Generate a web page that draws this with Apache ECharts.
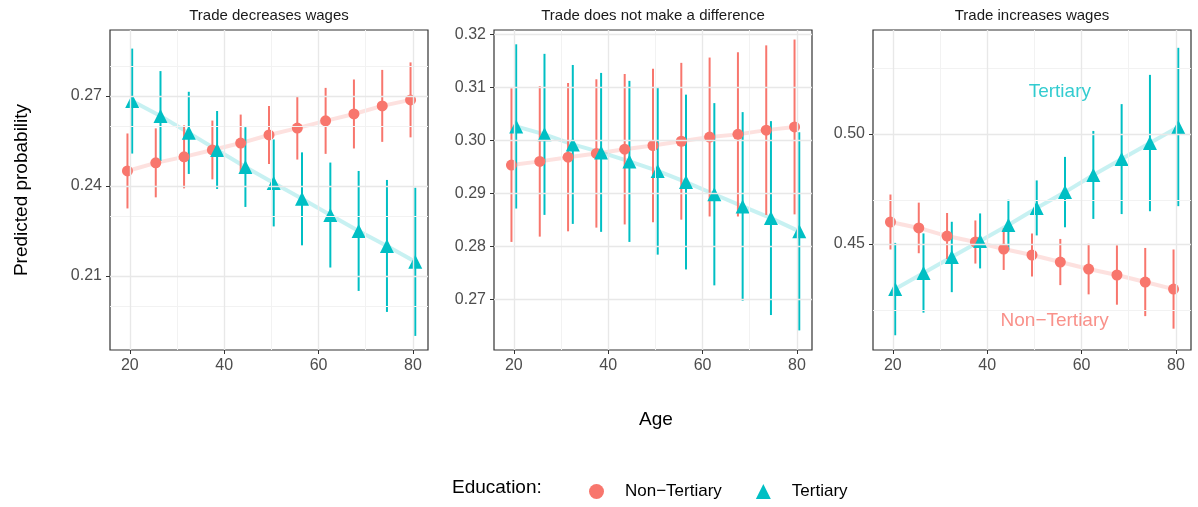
<!DOCTYPE html>
<html><head><meta charset="utf-8">
<script src="https://cdn.jsdelivr.net/npm/echarts@6/dist/echarts.min.js"></script>
<style>html,body{margin:0;background:#fff}#c{width:1198px;height:507px}</style>
</head><body><div id="c"></div>
<script>
// ages (non-tertiary dodged left, tertiary right)
const ages = [20, 26, 32, 38, 44, 50, 56, 62, 68, 74, 80];
const titles = ['Trade decreases wages', 'Trade does not make a difference', 'Trade increases wages'];

// panel 1
const p1NT = [0.245, 0.2477, 0.2497, 0.252, 0.2543, 0.257, 0.2593, 0.2617, 0.264, 0.2667, 0.2687];
const p1NTerr = [0.0125, 0.0115, 0.0105, 0.0098, 0.0095, 0.0097, 0.0105, 0.011, 0.0115, 0.012, 0.0125];
const p1T = [0.2683, 0.2633, 0.2577, 0.252, 0.2463, 0.241, 0.2357, 0.2303, 0.225, 0.22, 0.2147];
const p1Terr = [0.0175, 0.015, 0.0137, 0.013, 0.0133, 0.0145, 0.0155, 0.0175, 0.02, 0.022, 0.0247];
// panel 2
const p2NT = [0.2953, 0.296, 0.2968, 0.2975, 0.2983, 0.299, 0.2998, 0.3006, 0.3011, 0.3019, 0.3025];
const p2NTerr = [0.0145, 0.0142, 0.014, 0.014, 0.0142, 0.0145, 0.0148, 0.015, 0.0155, 0.016, 0.0165];
const p2T = [0.3026, 0.3011, 0.2992, 0.2977, 0.296, 0.2942, 0.2921, 0.2898, 0.2875, 0.2853, 0.2828];
const p2Terr = [0.0155, 0.0152, 0.015, 0.015, 0.0152, 0.0158, 0.0165, 0.0172, 0.0178, 0.0183, 0.0187];
// panel 3
const p3NT = [0.46, 0.4573, 0.4536, 0.4509, 0.4477, 0.445, 0.4418, 0.4386, 0.4359, 0.4327, 0.4295];
const p3NTerr = [0.0125, 0.0115, 0.0105, 0.0098, 0.0095, 0.0098, 0.0105, 0.0115, 0.0135, 0.0155, 0.018];
const p3T = [0.4295, 0.4368, 0.4441, 0.4514, 0.4586, 0.4664, 0.4736, 0.4814, 0.4886, 0.4959, 0.5032];
const p3Terr = [0.021, 0.018, 0.016, 0.0125, 0.0115, 0.0125, 0.016, 0.02, 0.025, 0.031, 0.036];

const panels = [
  { nt: p1NT, nte: p1NTerr, t: p1T, te: p1Terr, ymin: 0.1853, ymax: 0.292, major: [0.21, 0.24, 0.27], minor: [0.195, 0.225, 0.255, 0.285] },
  { nt: p2NT, nte: p2NTerr, t: p2T, te: p2Terr, ymin: 0.2604, ymax: 0.3208, major: [0.27, 0.28, 0.29, 0.30, 0.31, 0.32], minor: [0.265, 0.275, 0.285, 0.295, 0.305, 0.315] },
  { nt: p3NT, nte: p3NTerr, t: p3T, te: p3Terr, ymin: 0.4018, ymax: 0.5473, major: [0.45, 0.50], minor: [0.425, 0.475, 0.525] }
];
const xMajor = [20, 40, 60, 80], xMinor = [30, 50, 70];
const lefts = [110, 494, 873];
const RED = '#F8766D', CYAN = '#00BFC4', LAB = '#4d4d4d';

const grid = [], xAxis = [], yAxis = [], series = [], graphic = [];
panels.forEach((p, i) => {
  grid.push({ left: lefts[i], top: 30, width: 318, height: 320, show: true, borderColor: '#333', borderWidth: 1.2 });
  xAxis.push({ type: 'value', gridIndex: i, min: 15.8, max: 83.2, splitLine: { show: false },
    axisLine: { show: false }, axisTick: { show: true, customValues: xMajor, length: 4, lineStyle: { color: '#333' } },
    axisLabel: { customValues: xMajor, color: LAB, fontSize: 16, margin: 8 } });
  yAxis.push({ type: 'value', gridIndex: i, min: p.ymin, max: p.ymax, splitLine: { show: false },
    axisLine: { show: false }, axisTick: { show: true, customValues: p.major, length: 4, lineStyle: { color: '#333' } },
    axisLabel: { customValues: p.major, color: LAB, fontSize: 16, margin: 8, formatter: v => v.toFixed(2) } });
  const ml = [];
  xMinor.forEach(v => ml.push({ xAxis: v, lineStyle: { color: '#f2f2f2', width: 1, type: 'solid' } }));
  p.minor.forEach(v => ml.push({ yAxis: v, lineStyle: { color: '#f2f2f2', width: 1, type: 'solid' } }));
  xMajor.forEach(v => ml.push({ xAxis: v, lineStyle: { color: '#e8e8e8', width: 1.4, type: 'solid' } }));
  p.major.forEach(v => ml.push({ yAxis: v, lineStyle: { color: '#e8e8e8', width: 1.4, type: 'solid' } }));
  series.push({ type: 'scatter', xAxisIndex: i, yAxisIndex: i, data: [], silent: true,
    markLine: { silent: true, symbol: 'none', label: { show: false }, animation: false, data: ml } });
  const add = (vals, errs, off, color, name, symbol, size) => {
    const pts = ages.map((a, k) => [a + off, vals[k]]);
    series.push({ type: 'line', xAxisIndex: i, yAxisIndex: i, data: pts, symbol: 'none', silent: true,
      lineStyle: { color, width: 4, opacity: 0.22 }, z: 2 });
    series.push({ type: 'custom', xAxisIndex: i, yAxisIndex: i, z: 3, silent: true,
      data: ages.map((a, k) => [a + off, vals[k] - errs[k], vals[k] + errs[k]]),
      renderItem: (params, api) => {
        const lo = api.coord([api.value(0), api.value(1)]);
        const hi = api.coord([api.value(0), api.value(2)]);
        return { type: 'line', shape: { x1: lo[0], y1: lo[1], x2: hi[0], y2: hi[1] }, style: { stroke: color, lineWidth: 2 } };
      } });
    series.push({ type: 'scatter', name, xAxisIndex: i, yAxisIndex: i, data: pts, symbol, symbolSize: size,
      itemStyle: { color, opacity: 1 }, z: 4 });
  };
  add(p.nt, p.nte, -0.5, RED, 'Non\u2212Tertiary', 'circle', 11);
  add(p.t, p.te, 0.5, CYAN, 'Tertiary', 'triangle', 14);
  graphic.push({ type: 'text', x: lefts[i] + 159, y: 8, style: { text: titles[i], fill: '#1a1a1a', fontSize: 15, fontFamily: 'Liberation Sans', align: 'center' } });
});
// annotations in panel 3
series.push({ type: 'scatter', xAxisIndex: 2, yAxisIndex: 2, symbol: 'circle', symbolSize: 2, silent: true, z: 5,
  itemStyle: { color: 'rgba(0,0,0,0)' },
  data: [{ value: [55.4, 0.519], label: { formatter: 'Tertiary', color: CYAN } },
         { value: [54.3, 0.415], label: { formatter: 'Non\u2212Tertiary', color: RED } }],
  label: { show: true, position: 'inside', fontSize: 19, fontFamily: 'Liberation Sans' } });

graphic.push({ type: 'text', x: 22, y: 190, rotation: Math.PI / 2, style: { text: 'Predicted probability', fill: '#000', fontSize: 19, fontFamily: 'Liberation Sans', align: 'center', verticalAlign: 'middle' } });
graphic.push({ type: 'text', x: 656, y: 420, style: { text: 'Age', fill: '#000', fontSize: 19, fontFamily: 'Liberation Sans', align: 'center', verticalAlign: 'middle' } });
graphic.push({ type: 'text', x: 452, y: 488, style: { text: 'Education:', fill: '#000', fontSize: 19, fontFamily: 'Liberation Sans', verticalAlign: 'middle' } });

const chart = echarts.init(document.getElementById('c'));
chart.setOption({
  animation: false,
  textStyle: { fontFamily: 'Liberation Sans' },
  grid, xAxis, yAxis, series, graphic,
  legend: { left: 584, top: 478, itemWidth: 15, itemHeight: 15, itemGap: 34,
    data: [{ name: 'Non\u2212Tertiary', icon: 'circle' }, { name: 'Tertiary', icon: 'triangle' }],
    textStyle: { fontSize: 17, color: '#000', padding: [0, 0, 0, 16] } }
});
</script></body></html>
